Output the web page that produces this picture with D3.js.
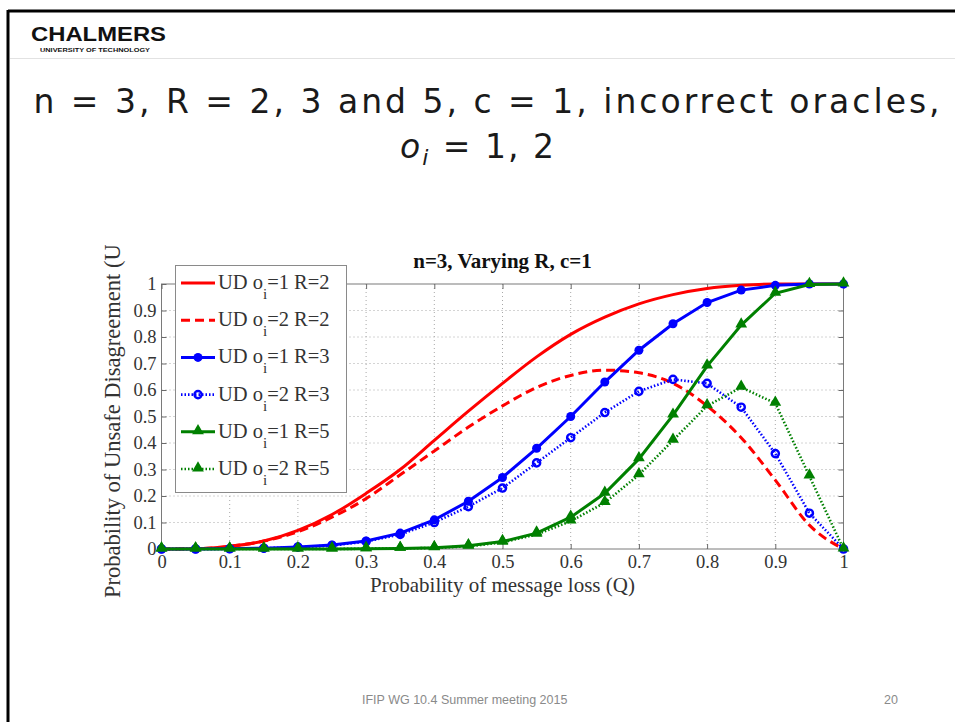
<!DOCTYPE html>
<html>
<head>
<meta charset="utf-8">
<script src="https://cdn.jsdelivr.net/npm/d3@7"></script>
<style>
  body { margin: 0; background: #fff; }
  svg { display: block; }
</style>
</head>
<body>
<svg id="slide" width="955" height="722"></svg>
<script>
// values
var qValues = [0, 0.05, 0.1, 0.15, 0.2, 0.25, 0.3, 0.35, 0.4, 0.45, 0.5,
               0.55, 0.6, 0.65, 0.7, 0.75, 0.8, 0.85, 0.9, 0.95, 1];
var udO1R2 = [0, 0.001, 0.01, 0.03, 0.07, 0.13, 0.21, 0.3, 0.41, 0.52, 0.625,
              0.725, 0.81, 0.875, 0.925, 0.96, 0.983, 0.995, 1, 1, 1];
var udO2R2 = [0, 0.001, 0.01, 0.03, 0.065, 0.12, 0.19, 0.28, 0.37, 0.46, 0.54,
              0.61, 0.655, 0.675, 0.665, 0.625, 0.54, 0.42, 0.26, 0.09, 0];
var udO1R3 = [0, 0, 0.001, 0.003, 0.008, 0.015, 0.03, 0.06, 0.11, 0.18, 0.27,
              0.38, 0.5, 0.63, 0.75, 0.85, 0.93, 0.977, 0.995, 1, 1];
var udO2R3 = [0, 0, 0.001, 0.003, 0.007, 0.013, 0.028, 0.055, 0.1, 0.16, 0.23,
              0.325, 0.42, 0.515, 0.595, 0.64, 0.625, 0.535, 0.36, 0.135, 0];
var udO1R5 = [0, 0, 0, 0, 0, 0, 0.001, 0.002, 0.005, 0.012, 0.028,
              0.06, 0.12, 0.21, 0.34, 0.505, 0.69, 0.845, 0.965, 0.998, 1];
var udO2R5 = [0, 0, 0, 0, 0, 0, 0.001, 0.002, 0.004, 0.01, 0.025,
              0.055, 0.105, 0.175, 0.28, 0.41, 0.54, 0.61, 0.55, 0.275, 0];
var xTicks = [0, 0.1, 0.2, 0.3, 0.4, 0.5, 0.6, 0.7, 0.8, 0.9, 1];
var yTicks = [0, 0.1, 0.2, 0.3, 0.4, 0.5, 0.6, 0.7, 0.8, 0.9, 1];

var series = [
  {o: 1, R: 2, values: udO1R2, color: "#ff0000", dash: null, marker: null, smooth: true},
  {o: 2, R: 2, values: udO2R2, color: "#ff0000", dash: "9,5", marker: null, smooth: true},
  {o: 1, R: 3, values: udO1R3, color: "#0000ff", dash: null, marker: "dot"},
  {o: 2, R: 3, values: udO2R3, color: "#0000ff", dash: "1.5,2", marker: "ring"},
  {o: 1, R: 5, values: udO1R5, color: "#008000", dash: null, marker: "tri"},
  {o: 2, R: 5, values: udO2R5, color: "#008000", dash: "1.5,2", marker: "tri"}
];

var svg = d3.select("#slide");

// slide frame
svg.append("line").attr("x1", 8).attr("y1", 11).attr("x2", 955).attr("y2", 11)
  .style("stroke", "#000").style("stroke-width", 3);
svg.append("line").attr("x1", 8).attr("y1", 10).attr("x2", 8).attr("y2", 722)
  .style("stroke", "#000").style("stroke-width", 3);
svg.append("line").attr("x1", 10).attr("y1", 58.5).attr("x2", 955).attr("y2", 58.5)
  .style("stroke", "#e2e2e2").style("stroke-width", 1);

// logo
svg.append("text").attr("x", 31).attr("y", 41).text("CHALMERS")
  .attr("textLength", 135).attr("lengthAdjust", "spacingAndGlyphs")
  .style("font-family", "Liberation Sans, Arial, sans-serif").style("font-weight", "bold")
  .style("font-size", "19.5px").style("fill", "#111");
svg.append("text").attr("x", 40).attr("y", 52).text("UNIVERSITY OF TECHNOLOGY")
  .attr("textLength", 110).attr("lengthAdjust", "spacingAndGlyphs")
  .style("font-family", "Liberation Sans, Arial, sans-serif").style("font-weight", "bold")
  .style("font-size", "5.8px").style("fill", "#111");

// slide title
var titleFont = "DejaVu Sans, Verdana, sans-serif";
svg.append("text").attr("x", 488).attr("y", 113).attr("text-anchor", "middle")
  .style("font-family", titleFont).style("font-size", "33px").style("fill", "#1a1a1a")
  .style("letter-spacing", "3px")
  .text("n = 3, R = 2, 3 and 5, c = 1, incorrect oracles,");
var t2 = svg.append("text").attr("x", 478).attr("y", 158).attr("text-anchor", "middle")
  .style("font-family", titleFont).style("font-size", "33px").style("fill", "#1a1a1a")
  .style("letter-spacing", "2px");
t2.append("tspan").style("font-style", "italic").text("o");
t2.append("tspan").style("font-style", "italic").style("font-size", "22px").attr("dy", 7).text("i");
t2.append("tspan").attr("dy", -7).text(" = 1, 2");

// footer
svg.append("text").attr("x", 362).attr("y", 704).text("IFIP WG 10.4 Summer meeting 2015")
  .style("font-family", "Liberation Sans, Arial, sans-serif").style("font-size", "12.5px")
  .style("fill", "#8a8a8a");
svg.append("text").attr("x", 898).attr("y", 704).attr("text-anchor", "end").text("20")
  .style("font-family", "Liberation Sans, Arial, sans-serif").style("font-size", "12.5px")
  .style("fill", "#8a8a8a");

// chart area
var plotLeft = 161.5, plotRight = 843.5, plotTop = 284, plotBottom = 549;
var x = d3.scaleLinear().domain([0, 1]).range([plotLeft, plotRight]);
var y = d3.scaleLinear().domain([0, 1]).range([plotBottom, plotTop]);
var serif = "Liberation Serif, Times New Roman, serif";

var chart = svg.append("g");

// grid
chart.selectAll("line.gx").data(xTicks.slice(1, -1)).enter().append("line")
  .attr("class", "gx")
  .attr("x1", function(d) { return x(d); }).attr("x2", function(d) { return x(d); })
  .attr("y1", plotTop).attr("y2", plotBottom)
  .style("stroke", "#a8a8a8").style("stroke-dasharray", "1,3");
chart.selectAll("line.gy").data(yTicks.slice(1, -1)).enter().append("line")
  .attr("class", "gy")
  .attr("x1", plotLeft).attr("x2", plotRight)
  .attr("y1", function(d) { return y(d); }).attr("y2", function(d) { return y(d); })
  .style("stroke", "#a8a8a8").style("stroke-dasharray", "1,3");

// box
chart.append("rect").attr("x", plotLeft).attr("y", plotTop)
  .attr("width", plotRight - plotLeft).attr("height", plotBottom - plotTop)
  .style("fill", "none").style("stroke", "#7a7a7a").style("stroke-width", 1);

// axes with inward ticks
var fmt = function(d) { return d === 0 || d === 1 ? String(d) : d3.format(".1f")(d); };
var xAxis = chart.append("g").attr("transform", "translate(0," + plotBottom + ")")
  .call(d3.axisBottom(x).tickValues(xTicks).tickFormat(fmt).tickSizeInner(-5).tickSizeOuter(0).tickPadding(9));
var yAxis = chart.append("g").attr("transform", "translate(" + plotLeft + ",0)")
  .call(d3.axisLeft(y).tickValues(yTicks).tickFormat(fmt).tickSizeInner(-5).tickSizeOuter(0).tickPadding(9));
chart.append("g").attr("transform", "translate(0," + plotTop + ")")
  .call(d3.axisTop(x).tickValues(xTicks).tickFormat("").tickSizeInner(-5).tickSizeOuter(0));
chart.append("g").attr("transform", "translate(" + plotRight + ",0)")
  .call(d3.axisRight(y).tickValues(yTicks).tickFormat("").tickSizeInner(-5).tickSizeOuter(0));
chart.selectAll(".domain").remove();
chart.selectAll(".tick line").style("stroke", "#6a6a6a");
[xAxis, yAxis].forEach(function(a) {
  a.selectAll("text").style("font-family", serif).style("font-size", "18.5px").style("fill", "#333");
});
xAxis.selectAll("text").attr("dy", "0.55em");
yAxis.selectAll("text").attr("dx", "4px");

// labels
chart.append("text").attr("x", (plotLeft + plotRight) / 2).attr("y", 268).attr("text-anchor", "middle")
  .style("font-family", serif).style("font-weight", "bold").style("font-size", "21px").style("fill", "#111")
  .text("n=3, Varying R, c=1");
chart.append("text").attr("x", (plotLeft + plotRight) / 2).attr("y", 592).attr("text-anchor", "middle")
  .style("font-family", serif).style("font-size", "21px").style("fill", "#333")
  .text("Probability of message loss (Q)");
// the original image cuts this label off at its top edge
svg.append("clipPath").attr("id", "ylabClip").append("rect")
  .attr("x", 80).attr("y", 245).attr("width", 60).attr("height", 400);
chart.append("g").attr("clip-path", "url(#ylabClip)")
  .append("text")
  .attr("transform", "translate(120,598) rotate(-90)")
  .style("font-family", serif).style("font-size", "22.5px").style("fill", "#333")
  .text("Probability of Unsafe Disagreement (UD)");

// lines
function lineFor(s) {
  return d3.line()
    .x(function(d, i) { return x(qValues[i]); })
    .y(function(d) { return y(d); })
    .curve(s.smooth ? d3.curveMonotoneX : d3.curveLinear);
}
var triangle = d3.symbol().type(d3.symbolTriangle).size(60);

function drawMarker(g, s, cx, cy) {
  if (s.marker === "dot") {
    g.append("circle").attr("cx", cx).attr("cy", cy).attr("r", 4.5).style("fill", s.color);
  } else if (s.marker === "ring") {
    g.append("circle").attr("cx", cx).attr("cy", cy).attr("r", 3.6)
      .style("fill", "none").style("stroke", s.color).style("stroke-width", 2.4);
  } else if (s.marker === "tri") {
    g.append("path").attr("d", triangle).attr("transform", "translate(" + cx + "," + (cy - 1) + ")")
      .style("fill", s.color);
  }
}

var plotG = chart.append("g");
series.forEach(function(s) {
  plotG.append("path").datum(s.values).attr("d", lineFor(s))
    .style("fill", "none").style("stroke", s.color)
    .style("stroke-width", s.dash && s.marker ? 2.6 : 3)
    .style("stroke-dasharray", s.dash);
  if (s.marker) {
    s.values.forEach(function(v, i) { drawMarker(plotG, s, x(qValues[i]), y(v)); });
  }
});

// legend
var lg = svg.append("g");
lg.append("rect").attr("x", 175.5).attr("y", 265.5).attr("width", 171).attr("height", 227)
  .style("fill", "#fff").style("stroke", "#8a8a8a").style("stroke-width", 1);
series.forEach(function(s, i) {
  var ly = 283 + i * 37.2;
  lg.append("line").attr("x1", 181).attr("x2", 215).attr("y1", ly).attr("y2", ly)
    .style("stroke", s.color).style("stroke-width", s.dash && s.marker ? 2.6 : 3)
    .style("stroke-dasharray", s.dash);
  if (s.marker) drawMarker(lg, s, 198, ly);
  var t = lg.append("text").attr("x", 218).attr("y", ly + 6)
    .style("font-family", serif).style("font-size", "20.5px").style("fill", "#333");
  t.append("tspan").text("UD o");
  t.append("tspan").attr("dy", 10).style("font-size", "15px").text("i");
  t.append("tspan").attr("dy", -10).text("=" + s.o + " R=" + s.R);
});
</script>
</body>
</html>
